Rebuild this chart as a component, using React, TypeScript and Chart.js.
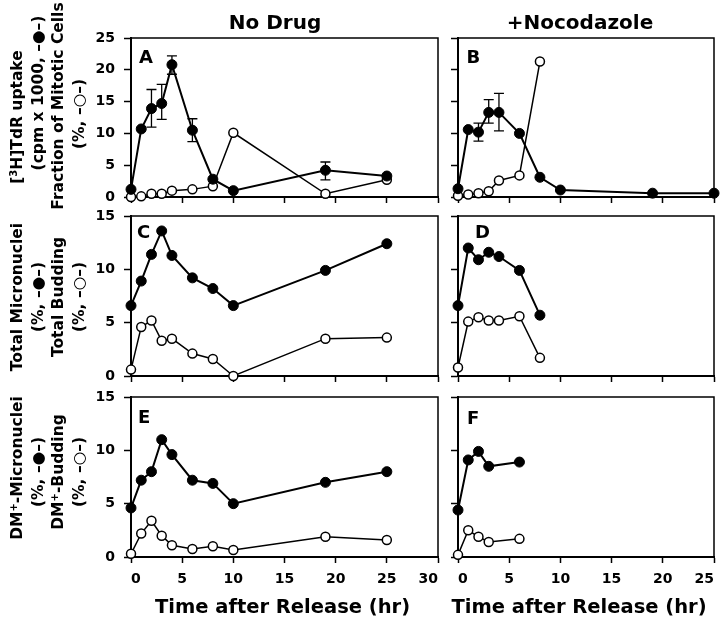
import React, { useEffect, useRef } from 'react';
import { Chart, registerables } from 'chart.js';

Chart.register(...registerables);

const FONT = "'DejaVu Sans', 'Liberation Sans', Arial, sans-serif";

// ---------------- data ----------------
const TIMES_FULL = [0, 1, 2, 3, 4, 6, 8, 10, 19, 25];
const TIMES_NOC = [0, 1, 2, 3, 4, 6, 8];
const TIMES_NOC_DM = [0, 1, 2, 3, 6];

// Panel A (No Drug): [3H]TdR uptake (filled) and mitotic fraction (open)
const A_UPTAKE = [1.2, 10.7, 13.9, 14.7, 20.8, 10.5, 2.8, 1.0, 4.2, 3.3];
const A_UPTAKE_HI = [null, null, 16.9, 17.7, 22.2, 12.3, null, null, 5.5, null];
const A_UPTAKE_LO = [null, null, 11.0, 12.2, 19.3, 8.7, null, null, 2.7, null];
const A_MITOTIC = [0, 0.1, 0.5, 0.5, 1.0, 1.2, 1.7, 10.1, 0.5, 2.7];

// Panel B (+Nocodazole)
const B_UPTAKE = [1.3, 10.6, 10.2, 13.3, 13.3, 10.0, 3.1, 1.1, 0.6, 0.6];
const B_UPTAKE_HI = [null, null, 11.6, 15.3, 16.3, null, null, null, null, null];
const B_UPTAKE_LO = [null, null, 8.8, 11.6, 10.4, null, null, null, null, null];
const B_MITOTIC = [0.2, 0.4, 0.6, 0.9, 2.6, 3.4, 21.3];

// Panel C / D: total micronuclei (filled), total budding (open)
const C_MICRO = [6.6, 8.9, 11.4, 13.6, 11.3, 9.2, 8.2, 6.6, 9.9, 12.4];
const C_BUD = [0.6, 4.6, 5.2, 3.3, 3.5, 2.1, 1.6, 0, 3.5, 3.6];
const D_MICRO = [6.6, 12.0, 10.9, 11.6, 11.2, 9.9, 5.7];
const D_BUD = [0.8, 5.1, 5.5, 5.2, 5.2, 5.6, 1.7];

// Panel E / F: DM+ micronuclei (filled), DM+ budding (open)
const E_MICRO = [4.6, 7.2, 8.0, 11.0, 9.6, 7.2, 6.9, 5.0, 7.0, 8.0];
const E_BUD = [0.3, 2.2, 3.4, 2.0, 1.1, 0.75, 1.0, 0.65, 1.9, 1.6];
const F_MICRO = [4.4, 9.1, 9.9, 8.5, 8.9];
const F_BUD = [0.2, 2.5, 1.9, 1.4, 1.7];

const X_MAX_LEFT = 30;
const X_MAX_RIGHT = 25;
const TICK_STEP = 5;

// ---------------- layout ----------------
type Area = { L: number; T: number; R: number; B: number };
const COL_LEFT = { L: 131, R: 438 };
const COL_RIGHT = { L: 458, R: 714 };
const ROW1 = { T: 38, B: 197 };
const ROW2 = { T: 216, B: 376 };
const ROW3 = { T: 397, B: 557 };

type Spec = {
  area: Area;
  xMax: number;
  yMax: number;
  showXLabels: boolean;
  showYLabels: boolean;
  filledX: number[];
  filledY: number[];
  openX: number[];
  openY: number[];
  hi?: (number | null)[];
  lo?: (number | null)[];
};

const PANELS: Spec[] = [
  { area: { ...COL_LEFT, ...ROW1 }, xMax: X_MAX_LEFT, yMax: 25, showXLabels: false, showYLabels: true,
    filledX: TIMES_FULL, filledY: A_UPTAKE, openX: TIMES_FULL, openY: A_MITOTIC, hi: A_UPTAKE_HI, lo: A_UPTAKE_LO },
  { area: { ...COL_RIGHT, ...ROW1 }, xMax: X_MAX_RIGHT, yMax: 25, showXLabels: false, showYLabels: false,
    filledX: TIMES_FULL, filledY: B_UPTAKE, openX: TIMES_NOC, openY: B_MITOTIC, hi: B_UPTAKE_HI, lo: B_UPTAKE_LO },
  { area: { ...COL_LEFT, ...ROW2 }, xMax: X_MAX_LEFT, yMax: 15, showXLabels: false, showYLabels: true,
    filledX: TIMES_FULL, filledY: C_MICRO, openX: TIMES_FULL, openY: C_BUD },
  { area: { ...COL_RIGHT, ...ROW2 }, xMax: X_MAX_RIGHT, yMax: 15, showXLabels: false, showYLabels: false,
    filledX: TIMES_NOC, filledY: D_MICRO, openX: TIMES_NOC, openY: D_BUD },
  { area: { ...COL_LEFT, ...ROW3 }, xMax: X_MAX_LEFT, yMax: 15, showXLabels: true, showYLabels: true,
    filledX: TIMES_FULL, filledY: E_MICRO, openX: TIMES_FULL, openY: E_BUD },
  { area: { ...COL_RIGHT, ...ROW3 }, xMax: X_MAX_RIGHT, yMax: 15, showXLabels: true, showYLabels: false,
    filledX: TIMES_NOC_DM, filledY: F_MICRO, openX: TIMES_NOC_DM, openY: F_BUD },
];

function PanelChart({ spec }: { spec: Spec }) {
  const ref = useRef<HTMLCanvasElement | null>(null);
  const yW = spec.showYLabels ? 50 : 15;
  const padR = 10;
  const padT = 12;
  const xH = spec.showXLabels ? 45 : 12;
  const { L, T, R, B } = spec.area;
  const width = R - L + yW + padR;
  const height = B - T + padT + xH;
  const left = L - yW;
  const top = T - padT;

  useEffect(() => {
    if (!ref.current) return;
    const tickFont = { family: FONT, size: 14, weight: 'bold' as const };
    const framePlugin = {
      id: 'frameAndErrors',
      beforeDatasetsDraw(chart: any) {
        const { ctx, chartArea, scales } = chart;
        ctx.save();
        ctx.strokeStyle = '#000';
        ctx.lineWidth = 1.5;
        ctx.beginPath();
        ctx.moveTo(chartArea.left, chartArea.top);
        ctx.lineTo(chartArea.right, chartArea.top);
        ctx.lineTo(chartArea.right, chartArea.bottom);
        ctx.stroke();
        if (spec.hi && spec.lo) {
          ctx.lineWidth = 1.3;
          const cap = 5;
          spec.filledX.forEach((xv, i) => {
            const h = spec.hi![i];
            const l = spec.lo![i];
            if (h == null || l == null) return;
            const px = scales.x.getPixelForValue(xv);
            const ph = scales.y.getPixelForValue(h);
            const pl = scales.y.getPixelForValue(l);
            ctx.beginPath();
            ctx.moveTo(px, ph);
            ctx.lineTo(px, pl);
            ctx.moveTo(px - cap, ph);
            ctx.lineTo(px + cap, ph);
            ctx.moveTo(px - cap, pl);
            ctx.lineTo(px + cap, pl);
            ctx.stroke();
          });
        }
        ctx.restore();
      },
    };

    const chart = new Chart(ref.current, {
      type: 'line',
      data: {
        datasets: [
          {
            label: 'filled',
            data: spec.filledX.map((x, i) => ({ x, y: spec.filledY[i] })),
            borderColor: '#000',
            borderWidth: 2,
            pointRadius: 5,
            pointBackgroundColor: '#000',
            pointBorderColor: '#000',
            pointBorderWidth: 1,
            tension: 0,
            clip: false as any,
          },
          {
            label: 'open',
            data: spec.openX.map((x, i) => ({ x, y: spec.openY[i] })),
            borderColor: '#000',
            borderWidth: 1.5,
            pointRadius: 4.5,
            pointBackgroundColor: '#fff',
            pointBorderColor: '#000',
            pointBorderWidth: 1.5,
            tension: 0,
            clip: false as any,
          },
        ],
      },
      options: {
        responsive: false,
        maintainAspectRatio: false,
        animation: false,
        devicePixelRatio: 1,
        events: [],
        layout: { padding: { top: padT, right: padR, left: 0, bottom: 0 } },
        plugins: { legend: { display: false }, tooltip: { enabled: false }, title: { display: false } },
        scales: {
          x: {
            type: 'linear',
            min: 0,
            max: spec.xMax,
            ticks: { stepSize: TICK_STEP, display: spec.showXLabels, align: 'inner', padding: 8, color: '#000', font: tickFont },
            grid: { drawOnChartArea: false, drawTicks: true, tickLength: 6, tickWidth: 1.5, color: '#000' },
            border: { display: true, color: '#000', width: 2 },
            afterFit: (s: any) => { s.height = xH; s.paddingLeft = 0; s.paddingRight = 0; },
          },
          y: {
            type: 'linear',
            min: 0,
            max: spec.yMax,
            ticks: { stepSize: TICK_STEP, display: spec.showYLabels, padding: 9, color: '#000', font: tickFont },
            grid: { drawOnChartArea: false, drawTicks: true, tickLength: 7, tickWidth: 1.5, color: '#000' },
            border: { display: true, color: '#000', width: 2 },
            afterFit: (s: any) => { s.width = yW; s.paddingTop = 0; s.paddingBottom = 0; },
          },
        },
      } as any,
      plugins: [framePlugin],
    });
    return () => chart.destroy();
  }, []);

  return (
    <canvas
      ref={ref}
      width={width}
      height={height}
      style={{ position: 'absolute', left, top, width, height }}
    />
  );
}

function Txt({ x, y, size, center, children }: { x: number; y: number; size: number; center?: boolean; children: any }) {
  return (
    <div
      style={{
        position: 'absolute',
        left: x,
        top: y - 0.846 * size,
        fontFamily: FONT,
        fontWeight: 'bold',
        fontSize: size,
        lineHeight: size + 'px',
        whiteSpace: 'nowrap',
        color: '#000',
        transform: center ? 'translateX(-50%)' : undefined,
      }}
    >
      {children}
    </div>
  );
}

// lines: [content, upward shift in px]
function YLabel({ cx, cy, lines }: { cx: number; cy: number; lines: [any, number][] }) {
  return (
    <div
      style={{
        position: 'absolute',
        left: cx,
        top: cy,
        transform: 'translate(-50%, -50%) rotate(-90deg)',
        fontFamily: FONT,
        fontWeight: 'bold',
        fontSize: 15.5,
        color: '#000',
        whiteSpace: 'nowrap',
        textAlign: 'center',
      }}
    >
      {lines.map(([l, d], i) => (
        <div key={i} style={{ height: 20.5, lineHeight: '20.5px', transform: `translateX(${d}px)` }}>{l}</div>
      ))}
    </div>
  );
}

const sup = (t: string) => (
  <span style={{ fontSize: 10, position: 'relative', top: -5 }}>{t}</span>
);

export default function App() {
  return (
    <div style={{ position: 'absolute', left: 0, top: 0, width: 720, height: 625, overflow: 'hidden', background: '#fff' }}>
      {PANELS.map((p, i) => (
        <PanelChart key={i} spec={p} />
      ))}
      <Txt x={275} y={28.5} size={20} center>No Drug</Txt>
      <Txt x={580} y={28.5} size={20} center>+Nocodazole</Txt>
      <Txt x={282.5} y={613} size={19.5} center>Time after Release (hr)</Txt>
      <Txt x={579} y={613} size={19.5} center>Time after Release (hr)</Txt>

      <Txt x={139} y={63} size={18}>A</Txt>
      <Txt x={466.5} y={63} size={18}>B</Txt>
      <Txt x={137} y={238} size={18}>C</Txt>
      <Txt x={475} y={238} size={18}>D</Txt>
      <Txt x={138} y={423} size={18}>E</Txt>
      <Txt x={467} y={424} size={18}>F</Txt>

      <YLabel cx={47.5} cy={117} lines={[
        [<>[{sup('3')}H]TdR uptake</>, 0],
        ['(cpm x 1000, –●–)', 24],
        ['Fraction of Mitotic Cells', 11],
        ['(%, –○–)', 3],
      ]} />
      <YLabel cx={47.5} cy={297} lines={[
        ['Total Micronuclei', 0],
        ['(%, –●–)', 0],
        ['Total Budding', 0],
        ['(%, –○–)', 0],
      ]} />
      <YLabel cx={47.5} cy={472} lines={[
        [<>DM{sup('+')}-Micronuclei</>, 4],
        ['(%, –●–)', 0],
        [<>DM{sup('+')}-Budding</>, 0],
        ['(%, –○–)', 0],
      ]} />
    </div>
  );
}
